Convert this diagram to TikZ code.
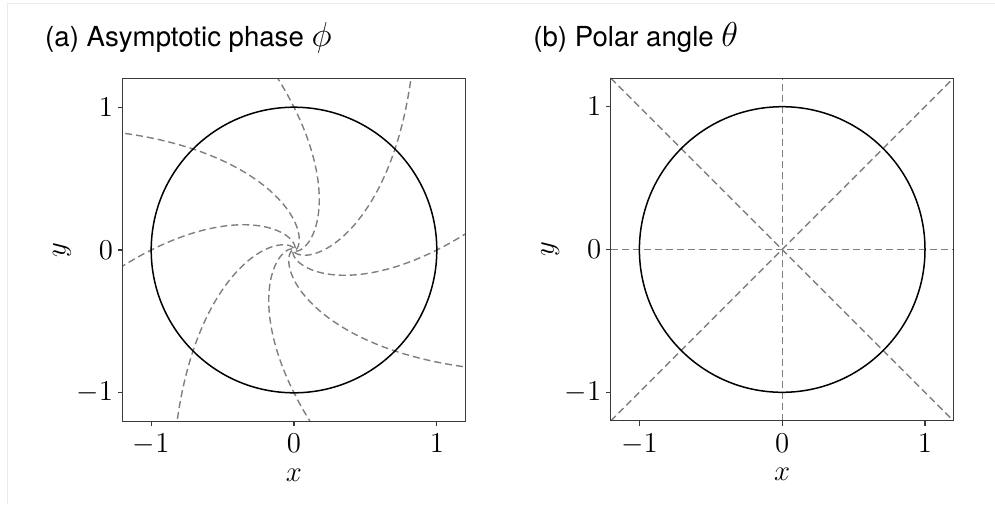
\documentclass[tikz,border=0pt]{standalone}
\usepackage{fontspec}
\newfontfamily\titlefont{TeX Gyre Heros}
\usepackage{tikz}
\usetikzlibrary{calc}
\definecolor{isogray}{HTML}{7F7F7F}
\definecolor{framegray}{HTML}{3A3A3A}
\definecolor{edgegray}{HTML}{EBEBEB}
\newcommand{\titlesym}[1]{{\fontsize{17}{20}\selectfont$#1$}}

\begin{document}
\begin{tikzpicture}[x=0.5pt, y=-0.5pt,
  isochron/.style={isogray, line width=0.7pt, dash pattern=on 3.5pt off 2pt},
  unitcircle/.style={black, line width=0.75pt},
  axisframe/.style={framegray, line width=0.6pt},
  ticklabel/.style={inner sep=0pt, font=\fontsize{14}{16}\selectfont},
  axislabel/.style={inner sep=0pt, font=\fontsize{15}{18}\selectfont},
  paneltitle/.style={inner sep=0pt, anchor=base west, font=\titlefont\fontsize{13.8}{16}\selectfont}]
  \useasboundingbox (0,0) rectangle (995,504);
  \draw[edgegray, line width=0.5pt] (7,504) -- (7,3) -- (995,3);

  % (a) isochrons of the asymptotic phase
  \begin{scope}[shift={(147pt,-125pt)}, x=71.4pt, y=71.4pt]
    \begin{scope}
      \clip (-1.2,-1.2) rectangle (1.2,1.2);
      \foreach \p in {0,45,...,315}
        \draw[isochron] plot[domain=-4.2:0.6, samples=120, smooth] ({exp(\x)*cos(\p+28.648*\x)}, {exp(\x)*sin(\p+28.648*\x)});
    \end{scope}
    \draw[unitcircle] (0,0) circle (1);
    \draw[axisframe] (-1.2,-1.2) rectangle (1.2,1.2);
    \foreach \t/\n in {-1/m, 0/z, 1/p} {
      \draw[axisframe] (\t,-1.2) -- (\t,-1.235);
      \draw[axisframe] (-1.2,\t) -- (-1.235,\t);
      \node[ticklabel, anchor=north] (ax\n) at (\t,-1.2875) {$\t$};
      \node[ticklabel, anchor=east] (ay\n) at (-1.265,\t) {$\t$};
    }
    \node[axislabel] (xlaba) at (0,-1.576) {$x$};
    \node[axislabel, rotate=90] (ylaba) at (-1.625,0) {$y$};
    \node[paneltitle] (titlea) at (-1.745,1.422) {(a) Asymptotic phase \titlesym{\phi}};
  \end{scope}

  % (b) rays of constant polar angle
  \begin{scope}[shift={(391.1pt,-124.75pt)}, x=71.4pt, y=71.4pt]
    \draw[isochron] (-1.2,0) -- (1.2,0);
    \draw[isochron] (0,-1.2) -- (0,1.2);
    \draw[isochron] (-1.2,-1.2) -- (1.2,1.2);
    \draw[isochron] (-1.2,1.2) -- (1.2,-1.2);
    \draw[unitcircle] (0,0) circle (1);
    \draw[axisframe] (-1.2,-1.2) rectangle (1.2,1.2);
    \foreach \t/\n in {-1/m, 0/z, 1/p} {
      \draw[axisframe] (\t,-1.2) -- (\t,-1.235);
      \draw[axisframe] (-1.2,\t) -- (-1.235,\t);
      \node[ticklabel, anchor=north] (bx\n) at (\t,-1.2875) {$\t$};
      \node[ticklabel, anchor=east] (by\n) at (-1.265,\t) {$\t$};
    }
    \node[axislabel] (xlabb) at (0,-1.576) {$x$};
    \node[axislabel, rotate=90] (ylabb) at (-1.625,0) {$y$};
    \node[paneltitle] (titleb) at (-1.745,1.422) {(b) Polar angle \titlesym{\theta}};
  \end{scope}
\end{tikzpicture}
\end{document}
